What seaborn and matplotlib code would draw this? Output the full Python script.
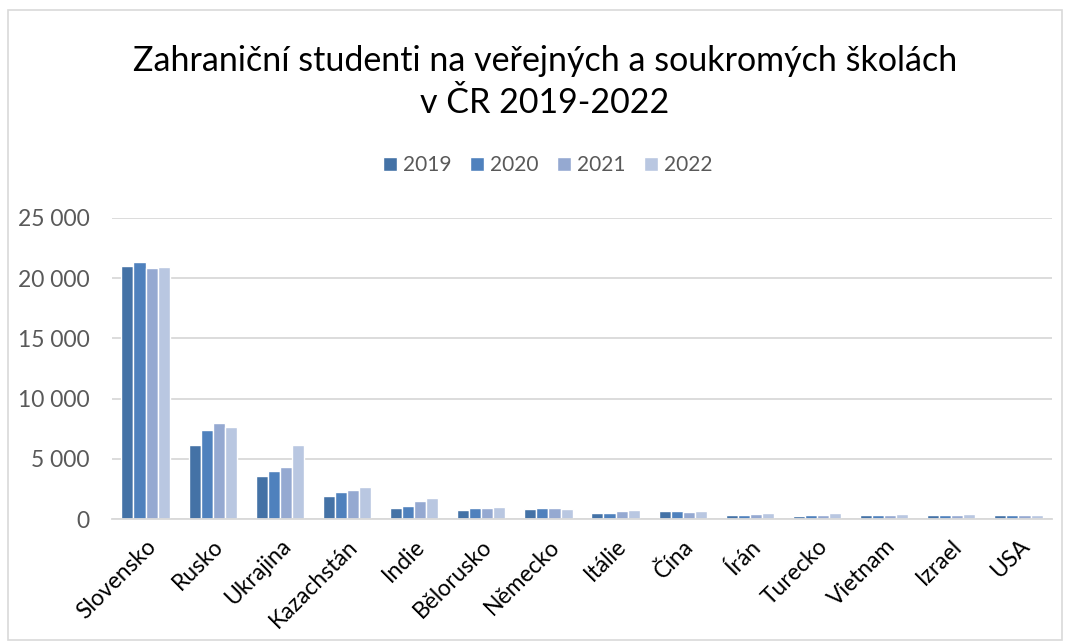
import pandas as pd
import seaborn as sns
import matplotlib.pyplot as plt
from matplotlib.ticker import FuncFormatter
from matplotlib.patches import Rectangle

# data
countries = ["Slovensko", "Rusko", "Ukrajina", "Kazachstán", "Indie", "Bělorusko",
             "Německo", "Itálie", "Čína", "Írán", "Turecko", "Vietnam", "Izrael", "USA"]
years = ["2019", "2020", "2021", "2022"]
v2019 = [21050, 6150, 3550, 1870, 900, 760, 870, 480, 690, 310, 250, 360, 310, 310]
v2020 = [21350, 7400, 3970, 2250, 1120, 900, 900, 480, 630, 360, 300, 360, 360, 360]
v2021 = [20850, 7970, 4300, 2450, 1460, 950, 900, 640, 570, 450, 360, 360, 360, 360]
v2022 = [20900, 7600, 6120, 2680, 1780, 1010, 790, 760, 630, 520, 470, 410, 410, 360]
colors = ["#4472a6", "#4f81bd", "#95a9d1", "#b9c7e1"]

df = pd.DataFrame({"country": countries * 4,
                   "year": sum([[y] * len(countries) for y in years], []),
                   "students": v2019 + v2020 + v2021 + v2022})

sns.set_theme(style="white")
plt.rcParams["font.family"] = ["Lato", "DejaVu Sans"]

fig = plt.figure(figsize=(10.68, 6.43), dpi=100)
ax = fig.add_axes([112 / 1068, 1 - 519 / 643, (1052 - 112) / 1068, (519 - 218) / 643])

sns.barplot(data=df, x="country", y="students", hue="year", palette=colors,
            saturation=1, width=0.72, edgecolor="white", linewidth=1.0,
            ax=ax, legend=True)

ax.set_ylim(0, 25000)
ax.set_yticks(range(0, 25001, 5000))
ax.yaxis.set_major_formatter(FuncFormatter(lambda v, p: f"{int(v):,}".replace(",", " ")))
ax.grid(axis="y", color="#d9d9d9", linewidth=1.3)
ax.set_axisbelow(True)
for s in ["top", "right", "left"]:
    ax.spines[s].set_visible(False)
ax.spines["bottom"].set_color("#d9d9d9")
ax.spines["bottom"].set_linewidth(1.3)
ax.set_xlabel("")
ax.set_ylabel("")
ax.tick_params(axis="y", labelsize=16.5, colors="#595959", pad=16, length=0)
ax.tick_params(axis="x", labelsize=16.5, colors="#000000", length=0, pad=12)
plt.setp(ax.get_xticklabels(), rotation=45, ha="right", rotation_mode="anchor")

# legend on top
handles, labels = ax.get_legend_handles_labels()
ax.get_legend().remove()
fig.legend(handles, labels, loc="center", ncol=4, frameon=False,
           bbox_to_anchor=(548 / 1068, 1 - 165 / 643), fontsize=15,
           handlelength=0.65, handleheight=0.65, handletextpad=0.3,
           columnspacing=0.9, labelcolor="#595959")

fig.text(545 / 1068, 1 - 82 / 643,
         "Zahraniční studenti na veřejných a soukromých školách\nv ČR 2019-2022",
         ha="center", va="center", fontsize=24.5, color="#000000", linespacing=1.35)

# outer chart border
fig.patches.append(Rectangle((8 / 1068, 3 / 643), 1054 / 1068, 630 / 643,
                             transform=fig.transFigure, fill=False,
                             edgecolor="#d9d9d9", linewidth=1.2))

fig.savefig("out.png", dpi=100, facecolor="white")
